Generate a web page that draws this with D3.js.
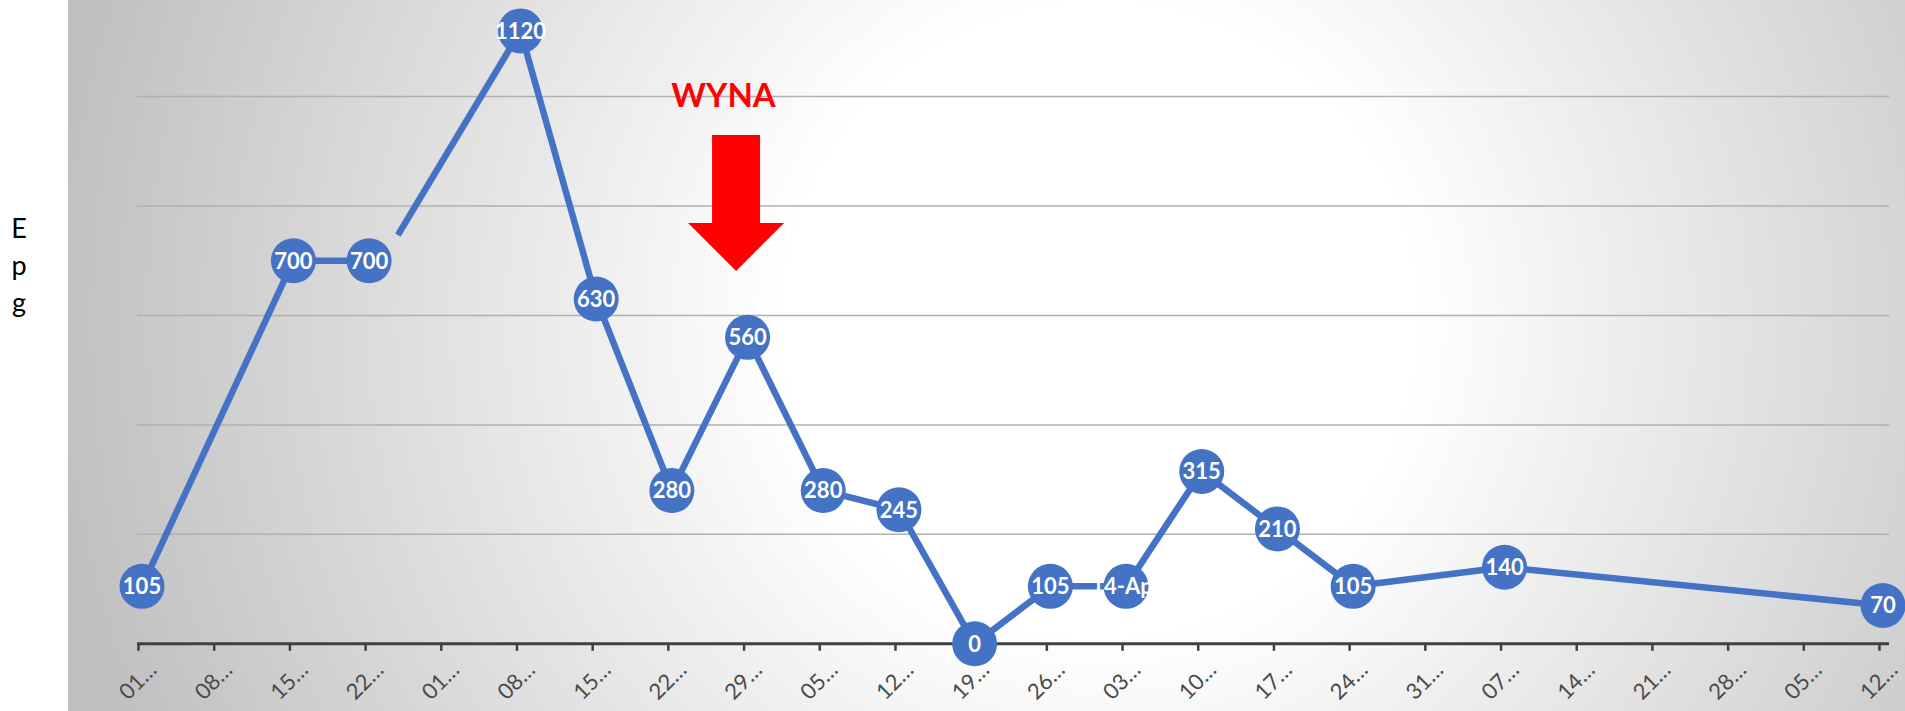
<!DOCTYPE html>
<html>
<head>
<meta charset="utf-8">
<script src="https://cdn.jsdelivr.net/npm/d3@7"></script>
<style>
  html, body { margin: 0; padding: 0; background: #fff; }
  svg { display: block; }
</style>
</head>
<body>
<div id="chart"></div>
<script>
'use strict';

// weekly date ticks, as shown (truncated) on the axis
const tickLabels = ['01…', '08…', '15…', '22…', '01…', '08…', '15…', '22…', '29…', '05…', '12…', '19…',
    '26…', '03…', '10…', '17…', '24…', '31…', '07…', '14…', '21…', '28…', '05…', '12…'];

// one value per tick, null where there is no point
const values = [105, null, 700, 700, null, 1120, 630, 280, 560, 280, 245, 0,
    105, 105, 315, 210, 105, null, 140, null, null, null, null, 70];

// data label text on each marker
const pointLabels = ['105', null, '700', '700', null, '1120', '630', '280', '560', '280', '245', '0',
    '105', '14-Apr', '315', '210', '105', null, '140', null, null, null, null, '70'];

const gridValues = [200, 400, 600, 800, 1000];
const axisTitleChars = ['E', 'p', 'g'];
const annotationText = 'WYNA';
const annotationTick = 8;      // arrow points at the 29… week
const brokenSegmentStart = 3;  // segment leaving this tick is drawn with a gap

const width = 1905, height = 711;
const panelLeft = 68;
const plotLeft = 137, plotRight = 1889;
const palette = { line: '#4472C4', grid: '#b0b0b0', axis: '#404040', label: '#4a4a4a', red: '#FF0000' };
const font = 'Lato, "Open Sans", sans-serif';

const svg = d3.select('#chart').append('svg')
    .attr('width', width)
    .attr('height', height);

// background: radial grey -> white
const defs = svg.append('defs');
const grad = defs.append('radialGradient')
    .attr('id', 'bg')
    .attr('gradientUnits', 'userSpaceOnUse')
    .attr('cx', 1100).attr('cy', 320).attr('r', 1050);
grad.append('stop').attr('offset', 0).attr('stop-color', '#ffffff');
grad.append('stop').attr('offset', 0.3).attr('stop-color', '#ffffff');
grad.append('stop').attr('offset', 1).attr('stop-color', '#c0c0c0');

svg.append('rect')
    .attr('x', panelLeft).attr('y', 0)
    .attr('width', width - panelLeft).attr('height', height)
    .attr('fill', 'url(#bg)');

let scaleX = d3.scalePoint()
    .domain(d3.range(tickLabels.length))
    .range([plotLeft + 5, plotRight - 6]);

let scaleY = d3.scaleLinear()
    .domain([0, 1200])
    .range([643.8, -12.9]);

// gridlines
svg.append('g').selectAll('line')
    .data(gridValues)
    .join('line')
    .attr('x1', plotLeft).attr('x2', plotRight)
    .attr('y1', d => scaleY(d)).attr('y2', d => scaleY(d))
    .attr('stroke', palette.grid)
    .attr('stroke-width', 1.5);

// x axis
let xAxis = d3.axisBottom(scaleX)
    .tickFormat(i => tickLabels[i])
    .tickSize(7)
    .tickSizeOuter(0);

let axisG = svg.append('g')
    .attr('transform', `translate(-4, ${scaleY(0)})`)
    .call(xAxis);

axisG.select('.domain').remove();
axisG.append('line')
    .attr('x1', plotLeft + 4).attr('x2', plotRight + 4)
    .attr('y1', 0).attr('y2', 0)
    .attr('stroke', palette.axis)
    .attr('stroke-width', 3);

axisG.selectAll('.tick line')
    .attr('stroke', palette.axis)
    .attr('stroke-width', 2.5);

axisG.selectAll('.tick text')
    .attr('x', 0).attr('y', 0).attr('dy', '0.35em')
    .attr('text-anchor', 'end')
    .attr('transform', 'translate(14, 22) rotate(-45)')
    .style('font-family', font)
    .style('font-size', '22px')
    .style('fill', palette.label);

// line segments between consecutive points (empty weeks are bridged)
let points = values
    .map((v, i) => ({ i, v, label: pointLabels[i] }))
    .filter(d => d.v !== null);

let segments = d3.pairs(points);
let lineG = svg.append('g');
segments.forEach(([a, b]) => {
    let x1 = scaleX(a.i), y1 = scaleY(a.v);
    let x2 = scaleX(b.i), y2 = scaleY(b.v);
    if (a.i === brokenSegmentStart) {
        let t = 0.19;
        x1 = x1 + (x2 - x1) * t;
        y1 = y1 + (y2 - y1) * t + 18;
    }
    lineG.append('line')
        .attr('x1', x1).attr('y1', y1)
        .attr('x2', x2).attr('y2', y2)
        .attr('stroke', palette.line)
        .attr('stroke-width', 6.5)
        .attr('stroke-linecap', 'butt');
});

// markers
svg.append('g').selectAll('circle')
    .data(points)
    .join('circle')
    .attr('cx', d => scaleX(d.i))
    .attr('cy', d => scaleY(d.v))
    .attr('r', 22.5)
    .attr('fill', palette.line);

// data labels
svg.append('g').selectAll('text')
    .data(points)
    .join('text')
    .attr('x', d => scaleX(d.i))
    .attr('y', d => scaleY(d.v))
    .attr('dy', '0.36em')
    .attr('text-anchor', 'middle')
    .style('font-family', font)
    .style('font-weight', 700)
    .style('font-size', '22px')
    .style('fill', '#ffffff')
    .text(d => d.label);

// axis title (stacked, truncated)
svg.append('g').selectAll('text')
    .data(axisTitleChars)
    .join('text')
    .attr('x', 19)
    .attr('y', (d, i) => 238 + i * 37)
    .attr('text-anchor', 'middle')
    .style('font-family', font)
    .style('font-size', '27px')
    .style('fill', '#000')
    .text(d => d);

// annotation: WYNA + red arrow
let ax = scaleX(annotationTick);
svg.append('text')
    .attr('x', ax - 24)
    .attr('y', 107)
    .attr('text-anchor', 'middle')
    .style('font-family', font)
    .style('font-weight', 700)
    .style('font-size', '33px')
    .style('fill', palette.red)
    .text(annotationText);

let cx = ax - 11.5;
let arrow = [
    [cx - 24, 135], [cx + 24, 135], [cx + 24, 223], [cx + 48, 223],
    [cx, 271], [cx - 48, 223], [cx - 24, 223]
];
svg.append('path')
    .attr('d', d3.line()(arrow) + 'Z')
    .attr('fill', palette.red);
</script>
</body>
</html>
